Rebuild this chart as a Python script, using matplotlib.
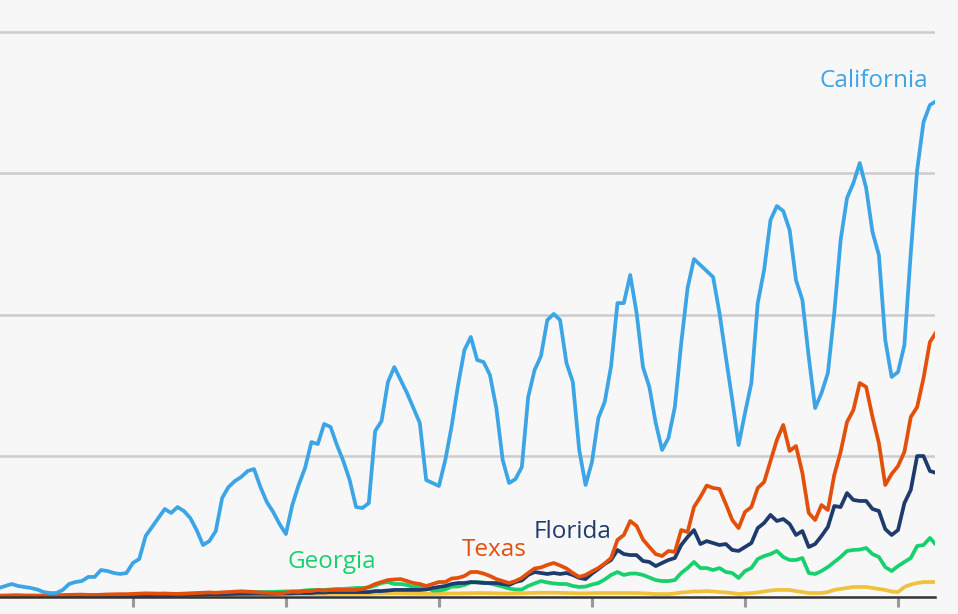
import matplotlib
matplotlib.use("Agg")
import matplotlib.pyplot as plt
import numpy as np

# monthly values, one per month (148 months)
california = [6.4, 7.8, 9.2, 7.8, 7.1, 6.4, 5.3, 3.5, 2.8, 2.8,
              5.0, 9.2, 10.6, 11.3, 14.2, 14.2, 19.1, 18.4, 17.0, 16.3,
              17.0, 24.1, 26.9, 43.2, 49.6, 55.9, 62.3, 59.5, 63.7, 60.9,
              55.9, 47.4, 36.8, 39.6, 46.7, 70.1, 77.9, 82.1, 85.0, 89.2,
              90.6, 77.9, 67.3, 60.2, 51.7, 44.6, 65.1, 79.3, 91.3, 109.7,
              108.3, 122.5, 120.4, 107.6, 96.3, 82.8, 63.7, 63.0, 66.5, 117.5,
              124.6, 152.2, 162.8, 153.6, 144.4, 133.8, 123.2, 82.8, 80.7, 78.6,
              97.0, 121.1, 150.1, 174.9, 184.1, 167.8, 166.4, 157.2, 133.8, 97.0,
              80.7, 83.5, 92.0, 141.6, 160.7, 170.6, 196.1, 200.4, 196.1, 165.7,
              152.2, 104.1, 79.3, 95.6, 126.7, 138.1, 163.5, 208.1, 208.1, 228.0,
              201.1, 162.8, 148.7, 123.2, 104.1, 112.6, 134.5, 179.8, 218.8, 239.3,
              235.0, 230.8, 226.5, 201.1, 169.9, 139.5, 107.6, 130.3, 151.5, 208.1,
              231.5, 266.9, 276.8, 273.3, 259.8, 224.4, 210.3, 169.9, 133.8, 144.4,
              158.6, 201.1, 252.7, 282.5, 293.1, 307.3, 289.6, 258.4, 242.1, 181.9,
              155.8, 159.3, 178.4, 243.5, 302.3, 336.3, 348.3, 351.2]

texas = [1.0, 1.0, 1.1, 1.2, 1.0, 1.0, 0.9, 1.0, 1.1, 1.2,
         1.3, 1.5, 1.6, 1.7, 1.5, 1.4, 1.6, 1.8, 1.9, 2.0,
         2.0, 2.2, 2.4, 2.6, 2.5, 2.4, 2.5, 2.3, 2.2, 2.4,
         2.6, 2.8, 3.0, 3.2, 3.0, 3.3, 3.5, 3.8, 4.0, 3.8,
         3.5, 3.2, 3.0, 2.8, 2.6, 3.2, 3.8, 3.5, 4.2, 4.2,
         5.0, 4.6, 5.0, 5.0, 5.0, 5.0, 5.0, 5.7, 7.1, 9.2,
         10.6, 12.0, 12.4, 12.7, 11.3, 9.9, 9.2, 7.8, 9.2, 10.6,
         10.6, 13.1, 13.5, 14.9, 17.7, 17.7, 16.6, 14.9, 12.7, 11.3,
         9.9, 11.3, 13.5, 17.0, 20.2, 20.9, 22.7, 24.1, 22.3, 20.2,
         17.0, 14.2, 15.6, 18.1, 20.5, 23.7, 27.6, 40.4, 43.9, 53.8,
         50.3, 40.7, 35.4, 30.4, 29.0, 32.6, 31.9, 47.4, 46.0, 63.7,
         70.8, 78.9, 77.2, 76.5, 65.8, 54.5, 48.8, 60.2, 63.7, 77.2,
         81.4, 96.3, 111.2, 121.8, 103.4, 106.9, 87.8, 59.5, 54.5, 65.1,
         61.6, 86.4, 102.7, 123.9, 132.4, 151.5, 148.7, 127.4, 109.0, 79.3,
         87.1, 92.7, 102.7, 127.4, 134.5, 155.0, 180.5, 187.6]

florida = [0.6, 0.6, 0.5, 0.5, 0.6, 0.6, 0.5, 0.5, 0.6, 0.7,
           0.7, 0.8, 0.8, 0.7, 0.8, 0.9, 0.9, 1.0, 1.0, 1.0,
           1.1, 1.2, 1.3, 1.2, 1.3, 1.4, 1.4, 1.3, 1.4, 1.5,
           1.6, 1.7, 1.8, 1.9, 1.9, 2.0, 2.1, 2.2, 2.3, 2.3,
           2.4, 2.4, 2.3, 2.3, 2.4, 2.5, 2.6, 2.8, 2.8, 2.8,
           3.2, 3.2, 3.5, 3.5, 3.5, 3.5, 3.5, 3.5, 3.5, 4.2,
           4.2, 4.6, 5.0, 5.0, 5.0, 5.0, 5.0, 5.3, 6.4, 7.1,
           7.8, 9.2, 9.9, 9.9, 10.6, 10.3, 9.9, 9.9, 9.9, 9.2,
           8.5, 10.6, 11.7, 15.6, 17.7, 17.0, 16.3, 17.0, 16.3, 17.0,
           15.6, 13.5, 12.7, 16.6, 19.8, 23.4, 26.2, 33.3, 30.4, 29.7,
           29.7, 25.5, 24.8, 21.9, 24.1, 26.2, 27.6, 36.8, 42.5, 47.4,
           37.5, 39.6, 38.2, 36.8, 37.5, 33.3, 32.6, 35.4, 38.2, 48.8,
           52.4, 58.1, 53.8, 55.2, 51.7, 43.9, 46.7, 35.4, 37.5, 43.2,
           49.6, 64.4, 63.7, 73.6, 68.7, 68.0, 68.0, 62.3, 60.9, 48.1,
           43.9, 47.4, 66.5, 75.8, 99.8, 99.8, 89.2, 87.8]

georgia = [0.8, 0.8, 0.9, 0.9, 0.8, 0.8, 0.8, 0.9, 1.0, 1.0,
           1.0, 1.1, 1.1, 1.2, 1.2, 1.2, 1.3, 1.3, 1.4, 1.4,
           1.5, 1.6, 1.7, 1.8, 1.8, 1.9, 2.0, 2.0, 2.1, 2.2,
           2.3, 2.4, 2.5, 2.5, 2.6, 2.7, 2.8, 3.0, 3.2, 3.3,
           3.4, 3.5, 3.5, 3.6, 3.8, 3.9, 4.0, 4.2, 4.6, 5.0,
           5.0, 5.0, 5.3, 5.7, 5.7, 6.0, 6.4, 6.4, 6.7, 8.1,
           9.9, 10.6, 9.2, 9.2, 8.5, 7.1, 7.1, 6.7, 4.6, 4.6,
           5.3, 7.4, 7.4, 8.5, 10.3, 10.6, 10.3, 9.6, 8.5, 7.4,
           6.0, 5.3, 5.3, 7.8, 9.6, 11.3, 10.3, 9.6, 9.2, 9.2,
           7.8, 7.1, 7.4, 8.8, 9.9, 12.4, 15.6, 17.7, 15.6, 16.6,
           16.6, 15.6, 13.8, 12.0, 11.3, 11.3, 12.0, 17.0, 20.5, 24.8,
           20.5, 20.5, 19.1, 20.5, 17.7, 17.0, 13.5, 18.4, 20.5, 26.9,
           29.0, 30.4, 32.6, 28.3, 26.2, 26.2, 27.6, 17.0, 16.3, 18.4,
           21.2, 24.8, 28.3, 32.6, 33.3, 33.6, 34.7, 30.4, 28.3, 21.2,
           18.4, 21.9, 24.8, 27.6, 36.1, 36.8, 41.8, 36.8]

other = [0.9, 0.9, 1.0, 1.0, 1.0, 1.0, 1.0, 1.0, 1.0, 1.0,
         1.1, 1.1, 1.1, 1.1, 1.2, 1.2, 1.2, 1.2, 1.3, 1.3,
         1.3, 1.4, 1.4, 1.4, 1.5, 1.5, 1.5, 1.5, 1.5, 1.6,
         1.6, 1.6, 1.6, 1.7, 1.7, 1.7, 1.7, 1.8, 1.8, 1.8,
         1.8, 1.8, 1.9, 1.9, 1.9, 1.9, 2.0, 2.0, 2.0, 2.1,
         2.1, 2.1, 2.1, 2.2, 2.2, 2.2, 2.2, 2.2, 2.3, 2.4,
         2.5, 2.6, 2.6, 2.5, 2.4, 2.3, 2.3, 2.2, 2.2, 2.3,
         2.4, 2.5, 2.5, 2.6, 2.7, 2.8, 2.8, 2.7, 2.6, 2.5,
         2.4, 2.5, 2.6, 2.8, 2.9, 3.0, 3.0, 3.0, 2.9, 2.8,
         2.7, 2.6, 2.6, 2.7, 2.8, 2.8, 2.8, 2.8, 2.8, 2.8,
         2.8, 2.6, 2.4, 2.1, 2.1, 2.1, 2.5, 3.2, 3.5, 3.9,
         3.9, 4.2, 3.9, 3.5, 3.2, 2.8, 2.1, 2.5, 2.8, 3.2,
         3.9, 4.6, 5.0, 5.0, 5.0, 4.2, 3.5, 2.8, 2.8, 2.8,
         3.5, 5.0, 5.7, 6.4, 7.1, 7.1, 7.1, 6.4, 5.7, 5.0,
         3.9, 3.5, 7.1, 8.8, 9.9, 10.6, 10.6, 10.6]

months = np.arange(len(california))
year_ticks = [21, 45, 69, 93, 117, 141]

bg = "#f7f7f7"
fig = plt.figure(figsize=(9.58, 6.14), dpi=100, facecolor=bg)
ax = fig.add_axes([0, 17 / 614, 935 / 958, 597 / 614])
ax.set_facecolor(bg)

lw = 2.7
ax.plot(months, other, color="#f0c23c", lw=lw, zorder=3)
ax.plot(months, georgia, color="#19d06e", lw=lw, zorder=4)
ax.plot(months, florida, color="#1f3b6d", lw=lw, zorder=5)
ax.plot(months, texas, color="#e2500c", lw=lw, zorder=6)
ax.plot(months, california, color="#3ba5e6", lw=lw, zorder=7)

ax.set_xlim(0.16, 146.8)
ax.set_ylim(0, 422.7)
ax.set_yticks([100, 200, 300, 400])
ax.yaxis.grid(True, color="#cccccc", lw=1.8)
ax.set_axisbelow(True)
ax.tick_params(axis="y", length=0, labelleft=False)
ax.set_xticks(year_ticks)
ax.tick_params(axis="x", direction="out", length=7, width=2.2,
               color="#999999", labelbottom=False)
for s in ["top", "right", "left"]:
    ax.spines[s].set_visible(False)
ax.spines["bottom"].set_color("#333333")
ax.spines["bottom"].set_linewidth(1.8)
ax.spines["bottom"].set_zorder(8)

font = dict(family=["Open Sans", "DejaVu Sans"], fontsize=17.5)
ax.text(145.7, 365.0, "California", color="#3ba5e6", ha="right", va="center", **font)
ax.text(72.6, 33.5, "Texas", color="#e2500c", ha="left", va="center", **font)
ax.text(83.8, 46.0, "Florida", color="#1f3b6d", ha="left", va="center", **font)
ax.text(45.2, 24.5, "Georgia", color="#19d06e", ha="left", va="center", **font)

fig.savefig("out.png", dpi=100, facecolor=bg)
